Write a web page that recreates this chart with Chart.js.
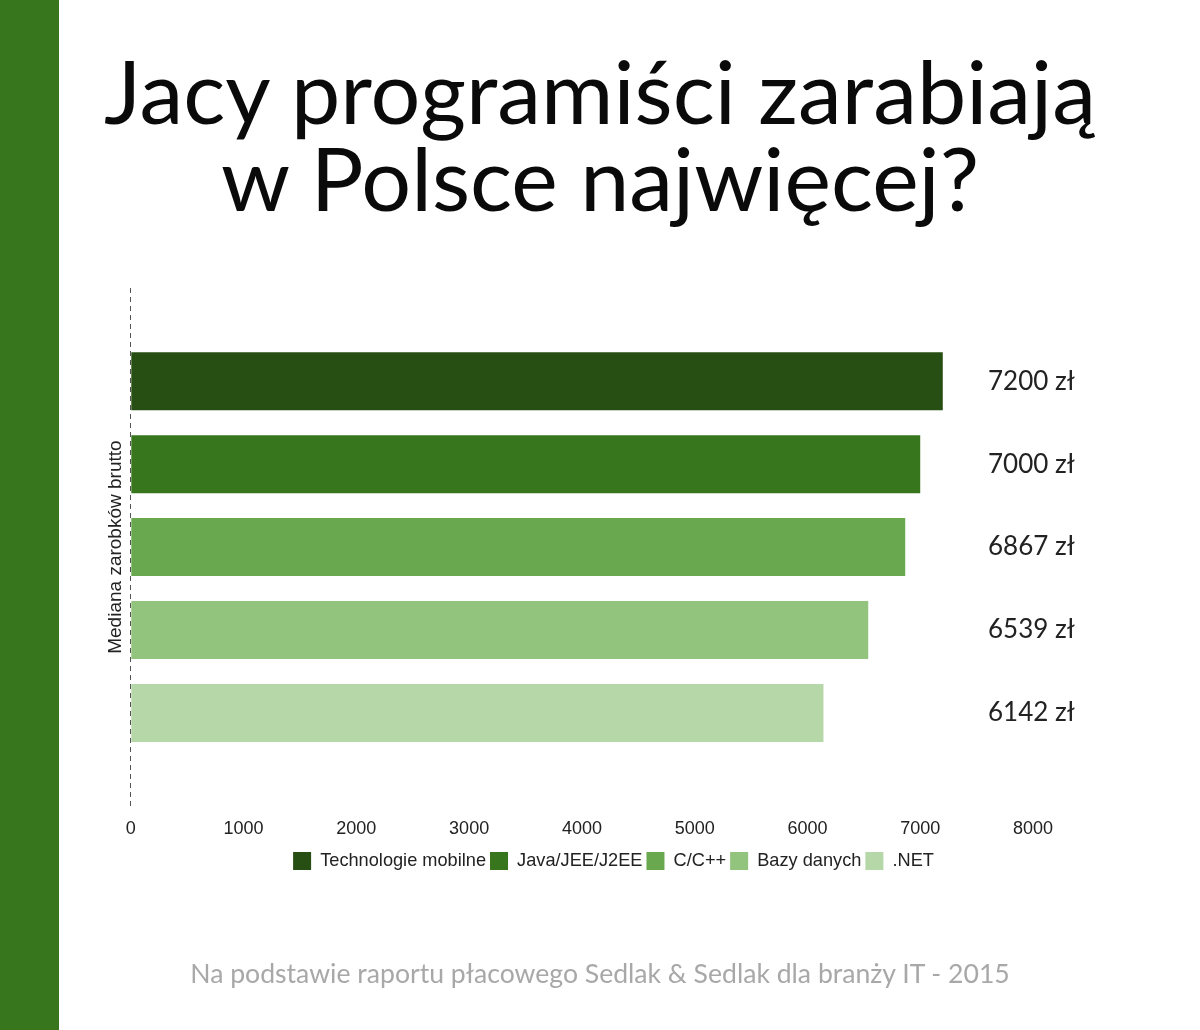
<!DOCTYPE html>
<html>
<head>
<meta charset="utf-8">
<script src="https://cdn.jsdelivr.net/npm/chart.js@4"></script>
<style>
  html, body { margin: 0; padding: 0; background: #fff; }
  body { width: 1200px; height: 1030px; position: relative; overflow: hidden; }
  #strip { position: absolute; left: 0; top: 0; width: 59px; height: 1030px; background: #38761d; }
  #title { position: absolute; left: 0; top: 47px; width: 1200px; text-align: center;
           font-family: Lato, sans-serif; font-size: 88px; line-height: 87px; color: #0a0a0a; }
  #footer { position: absolute; left: 0; top: 957px; width: 1200px; text-align: center;
            font-family: Lato, sans-serif; font-size: 26.6px; line-height: 32px; color: #a8a8a8; }
  #wrap { position: absolute; left: 0; top: 0; width: 1200px; height: 1030px; }
</style>
</head>
<body>
<div id="strip"></div>
<div id="wrap"><canvas id="c"></canvas></div>
<div id="title">Jacy programiści zarabiają<br>w Polsce najwięcej?</div>
<div id="footer">Na podstawie raportu płacowego Sedlak &amp; Sedlak dla branży IT - 2015</div>
<script>
const categories = ['Technologie mobilne', 'Java/JEE/J2EE', 'C/C++', 'Bazy danych', '.NET'];
const salaries = [7200, 7000, 6867, 6539, 6142];
const xRange = [0, 8000];
const xStep = 1000;
const yAxisTitle = 'Mediana zarobków brutto';
const currency = 'zł';
const barColors = ['#274e13', '#38761d', '#6aa84f', '#93c47d', '#b6d7a8'];

const valueLabels = {
  id: 'valueLabels',
  afterDatasetsDraw(chart) {
    const ctx = chart.ctx;
    ctx.save();
    ctx.font = '26px Lato';
    ctx.fillStyle = '#222';
    ctx.textAlign = 'left';
    ctx.textBaseline = 'middle';
    const x = chart.chartArea.right - 45;
    chart.data.datasets.forEach((ds, i) => {
      const bar = chart.getDatasetMeta(i).data[0];
      ctx.fillText(ds.data[0] + ' ' + currency, x, bar.y);
    });
    ctx.restore();
  }
};

const legendShift = {
  id: 'legendShift',
  afterLayout(chart) {
    const lg = chart.legend;
    lg.left += 47; lg.right += 47;
    lg.top -= 4; lg.bottom -= 4;
  }
};

new Chart(document.getElementById('c'), {
  type: 'bar',
  data: {
    labels: [''],
    datasets: categories.map((name, i) => ({
      label: name,
      data: [salaries[i]],
      backgroundColor: barColors[i],
      borderWidth: 0
    }))
  },
  options: {
    indexAxis: 'y',
    responsive: true,
    maintainAspectRatio: false,
    animation: false,
    categoryPercentage: 0.8,
    barPercentage: 0.7,
    layout: { padding: { top: 288, left: 100, right: 167, bottom: 146 } },
    plugins: {
      tooltip: { enabled: false },
      legend: {
        position: 'bottom',
        labels: {
          boxWidth: 18, boxHeight: 18, padding: 4,
          color: '#222',
          font: { family: 'Liberation Sans', size: 18.2 }
        }
      }
    },
    scales: {
      x: {
        min: xRange[0], max: xRange[1],
        ticks: { stepSize: xStep, color: '#222', padding: 12,
                 font: { family: 'Liberation Sans', size: 18 },
                 callback: v => String(v) },
        grid: {
          display: true, drawTicks: false, z: 1, lineWidth: 1,
          color: c => (c.tick && c.tick.value === 0) ? '#555' : 'rgba(0,0,0,0)'
        },
        border: { display: false, dash: [5, 4] }
      },
      y: {
        ticks: { display: false },
        grid: { display: false, drawTicks: false },
        border: { display: false },
        title: { display: true, text: yAxisTitle, color: '#222',
                 font: { family: 'Liberation Sans', size: 19 } }
      }
    }
  },
  plugins: [valueLabels, legendShift]
});
</script>
</body>
</html>
